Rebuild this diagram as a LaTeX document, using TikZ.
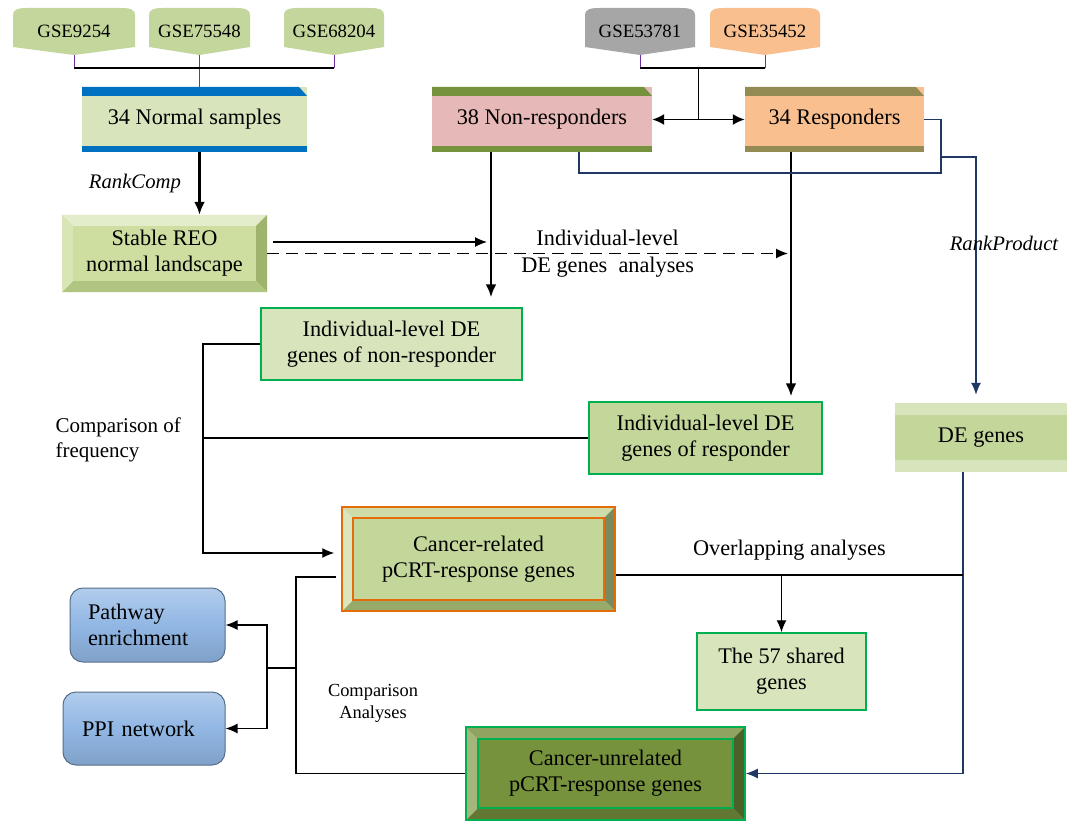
\documentclass[tikz,border=0pt]{standalone}
\usepackage{fontspec}
\setmainfont{Liberation Serif}
\usetikzlibrary{arrows.meta,positioning,calc}
\definecolor{tagGreen}{RGB}{195,214,155}
\definecolor{tagGray}{RGB}{166,166,166}
\definecolor{tagOrange}{RGB}{250,191,143}
\definecolor{paleGreen}{RGB}{216,228,188}
\definecolor{midGreen}{RGB}{196,215,155}
\definecolor{barBlue}{RGB}{0,112,192}
\definecolor{barGreen}{RGB}{118,146,60}
\definecolor{barOlive}{RGB}{148,138,84}
\definecolor{nonPink}{RGB}{230,184,183}
\definecolor{resOrange}{RGB}{250,191,143}
\definecolor{edgeGreen}{RGB}{0,176,80}
\definecolor{edgeOrange}{RGB}{228,108,10}
\definecolor{lineNavy}{RGB}{31,56,100}
\definecolor{stubPurple}{RGB}{112,48,160}
\definecolor{boxBlue}{RGB}{145,183,228}
\definecolor{reoface}{RGB}{205,222,160}
\definecolor{reotop}{RGB}{228,237,203}
\definecolor{reoleft}{RGB}{216,230,182}
\definecolor{reoright}{RGB}{158,180,108}
\definecolor{reobottom}{RGB}{176,197,128}
\definecolor{reoline}{RGB}{205,222,160}
\definecolor{crface}{RGB}{196,215,155}
\definecolor{crtop}{RGB}{205,220,168}
\definecolor{crleft}{RGB}{218,230,192}
\definecolor{crright}{RGB}{122,138,96}
\definecolor{crbottom}{RGB}{152,170,106}
\definecolor{crline}{RGB}{228,108,10}
\definecolor{cuface}{RGB}{118,146,60}
\definecolor{cutop}{RGB}{142,164,96}
\definecolor{culeft}{RGB}{164,182,122}
\definecolor{curight}{RGB}{78,96,42}
\definecolor{cubottom}{RGB}{98,120,50}
\definecolor{culine}{RGB}{0,176,80}
\newcommand\bodyfont{\fontsize{22.3}{26}\selectfont}
\newcommand\tagfont{\fontsize{18.8}{22}\selectfont}
\newcommand\notefont{\fontsize{21}{25}\selectfont}
\newcommand\smallnote{\fontsize{18.4}{22}\selectfont}
\newcommand\methodfont{\fontsize{20.7}{24}\selectfont\itshape}

\begin{document}
\begin{tikzpicture}[x=1pt,y=-1pt,
      gse/.style 2 args={minimum width=#1,minimum height=47pt,inner sep=0pt,font=\tagfont,fill=white,
        path picture={\fill[#2] ([yshift=8pt]path picture bounding box.south west)
          -- ([yshift=-7pt]path picture bounding box.north west)
          .. controls ([yshift=-2pt]path picture bounding box.north west) and ([xshift=4pt]path picture bounding box.north west) .. ([xshift=14pt]path picture bounding box.north west)
          -- ([xshift=-14pt]path picture bounding box.north east)
          .. controls ([xshift=-4pt]path picture bounding box.north east) and ([yshift=-2pt]path picture bounding box.north east) .. ([yshift=-7pt]path picture bounding box.north east)
          -- ([yshift=8pt]path picture bounding box.south east)
          -- (path picture bounding box.south) -- cycle;}},
      sample/.style 2 args={fill=#1,minimum height=65pt,font=\bodyfont,
        path picture={\fill[#2] (path picture bounding box.north west)
          -- ([xshift=-8pt]path picture bounding box.north east)
          -- ([yshift=-9pt]path picture bounding box.north east)
          -- ([yshift=-9pt]path picture bounding box.north west) -- cycle;
          \fill[#2] (path picture bounding box.south west) rectangle ([yshift=6pt]path picture bounding box.south east);}},
      bevel/.style 2 args={font=\bodyfont,align=center,
        path picture={
          \coordinate (bA) at (path picture bounding box.north west);
          \coordinate (bB) at (path picture bounding box.north east);
          \coordinate (bC) at (path picture bounding box.south east);
          \coordinate (bD) at (path picture bounding box.south west);
          \fill[#1face] (bA) rectangle (bC);
          \fill[#1top] (bA) -- (bB) -- ([shift={(-#2,-#2)}]bB) -- ([shift={(#2,-#2)}]bA) -- cycle;
          \fill[#1right] (bB) -- (bC) -- ([shift={(-#2,#2)}]bC) -- ([shift={(-#2,-#2)}]bB) -- cycle;
          \fill[#1bottom] (bC) -- (bD) -- ([shift={(#2,#2)}]bD) -- ([shift={(-#2,#2)}]bC) -- cycle;
          \fill[#1left] (bD) -- (bA) -- ([shift={(#2,-#2)}]bA) -- ([shift={(#2,#2)}]bD) -- cycle;
          \draw[#1line,line width=1.5pt] ([shift={(#2,-#2)}]bA) rectangle ([shift={(-#2,#2)}]bC);}},
      gbox/.style={draw=edgeGreen,line width=1.5pt,fill=#1,align=center,font=\bodyfont},
      debox/.style={fill=midGreen,font=\bodyfont,
        path picture={\fill[paleGreen] (path picture bounding box.north west) rectangle ([yshift=-12pt]path picture bounding box.north east);
          \fill[paleGreen] (path picture bounding box.south west) rectangle ([yshift=12pt]path picture bounding box.south east);}},
      blueb/.style={rounded corners=13pt,draw=boxBlue!60!black,line width=1pt,
        top color=boxBlue!70!white,bottom color=boxBlue!88!black,middle color=boxBlue,
        font=\bodyfont,align=left},
      link/.style={line width=1.3pt},
      stub/.style={stubPurple,line width=1pt},
      arr/.style={-{Latex[length=12pt,width=10pt]},line width=1.3pt},
      dbl/.style={{Latex[length=12pt,width=11pt]}-{Latex[length=12pt,width=11pt]},line width=1.8pt},
      bigarr/.style={-{Latex[length=13pt,width=11pt]},line width=2.5pt},
      navy/.style={lineNavy,line width=1.3pt},
      navyarr/.style={lineNavy,line width=1.3pt,-{Latex[length=12pt,width=10pt]}}]
    \path[use as bounding box,fill=white] (0,0) rectangle (1072,824);

    \node[gse={122pt}{tagGreen}] (gA) at (74,31.5) {GSE9254};
    \node[gse={101pt}{tagGreen}] (gB) at (199.5,31.5) {GSE75548};
    \node[gse={100pt}{tagGreen}] (gC) at (334,31.5) {GSE68204};
    \node[gse={110pt}{tagGray}] (gD) at (640,31.5) {GSE53781};
    \node[gse={110pt}{tagOrange}] (gE) at (765,31.5) {GSE35452};

    \node[sample={paleGreen}{barBlue},minimum width=225pt] (normal) at (194.5,119.5) {34 Normal samples};
    \node[sample={nonPink}{barGreen},minimum width=220pt] (non) at (542,119.5) {38 Non-responders};
    \node[sample={resOrange}{barOlive},minimum width=179pt] (res) at (834.5,119.5) {34 Responders};

    \node[bevel={reo}{12pt},minimum width=205pt,minimum height=77pt] (reo) at (164.5,253.5) {Stable REO\\normal landscape};
    \node[gbox=paleGreen,minimum width=261pt,minimum height=72pt] (ind1) at (391.5,344) {Individual-level DE\\genes of non-responder};
    \node[gbox=midGreen,minimum width=233pt,minimum height=72pt] (ind2) at (705.5,438) {Individual-level DE\\genes of responder};
    \node[debox,minimum width=172pt,minimum height=69pt] (de) at (981,437.5) {DE genes};
    \node[bevel={cr}{11pt},draw=edgeOrange,line width=1.5pt,minimum width=273pt,minimum height=104pt] (cr) at (478.5,559) {Cancer-related\\pCRT-response genes};
    \node[gbox=paleGreen,minimum width=169pt,minimum height=77pt] (shared) at (781.5,671.5) {The 57 shared\\genes};
    \node[bevel={cu}{12pt},draw=edgeGreen,line width=1.5pt,minimum width=279pt,minimum height=93pt] (cu) at (605.5,773.5) {Cancer-unrelated\\pCRT-response genes};
    \node[blueb,inner xsep=18pt,text width=119pt,minimum height=74pt] (pw) at (147.5,625) {Pathway\\enrichment};
    \node[blueb,inner xsep=19pt,text width=124pt,minimum height=73pt] (ppi) at (144,728.5) {PPI network};

    \node[font=\notefont,align=left,anchor=west] (cmpfreq) at (52,440) {Comparison of\\frequency};
    \node[font=\smallnote,align=center] (cmpana) at (373,703) {Comparison\\Analyses};

    \coordinate (barL) at (0,68);
    \draw[stub] (gA.south) -- (gA.south |- barL);
    \draw[stub] (gC.south) -- (gC.south |- barL);
    \draw[stub] (gB.south) -- (gB.south |- normal.north);
    \draw[link] (gA.south |- barL) -- (gC.south |- barL);
    \draw[stub] (gD.south) -- (gD.south |- barL);
    \draw[stub] (gE.south) -- (gE.south |- barL);
    \draw[link] (gD.south |- barL) -- (gE.south |- barL);
    \coordinate (split) at ($(non.east)!0.5!(res.west)$);
    \draw[link,line width=1.8pt] (split |- barL) -- (split);
    \draw[dbl] (non.east) -- (res.west);

    \draw[bigarr] (normal.south -| gB.south) -- (reo.north -| gB.south)
      node[midway,left=14pt,font=\methodfont] (rc) {RankComp};

    \coordinate (nonout) at ([xshift=-51pt]non.south);
    \coordinate (resout) at ([xshift=-43.5pt]res.south);
    \draw[bigarr,shorten >=10pt] (nonout) -- (nonout |- ind1.north);
    \draw[bigarr,shorten >=5pt] (resout) -- (resout |- ind2.north);
    \draw[arr,shorten >=4pt] ([xshift=6pt,yshift=11.5pt]reo.east) -- ([yshift=11.5pt]reo.east -| nonout);
    \draw[arr,dash pattern=on 12pt off 7pt,shorten >=3pt] (reo.east) -- (reo.east -| resout)
      node[pos=0.65,align=center,font=\bodyfont] (dashlbl) {Individual-level\\[1pt]DE genes\ \ analyses};

    \coordinate (rpj) at (941,173);
    \coordinate (rpk) at (941,157);
    \draw[navy] (res.east) -| (rpj) -| ([xshift=37pt]non.south);
    \draw[navyarr,shorten >=8pt] (rpk) -| ([xshift=-5pt]de.north)
      node[pos=0.675,xshift=28pt,font=\methodfont,text=black] (rp) {RankProduct};
    \coordinate (dedown) at ([xshift=-18pt]de.south);
    \draw[navyarr] (dedown) |- (cu.east);
    \draw[link] ([yshift=-16pt]cr.east) -- ([yshift=-16pt]cr.east -| dedown)
      node[midway,above=11pt,font=\bodyfont] (ovl) {Overlapping analyses};
    \draw[arr] ([yshift=-16pt]cr.east -| shared.north) -- (shared.north);

    \coordinate (cmpx) at (203,0);
    \coordinate (anx) at (296,0);
    \coordinate (brx) at (267,668);
    \draw[arr,shorten >=7pt] (ind1.west) -- (ind1.west -| cmpx) |- ([yshift=6pt]cr.west);
    \draw[link] (ind2.west) -- (ind2.west -| cmpx);
    \draw[link] ([xshift=-5pt,yshift=-18pt]cr.west) -| (anx |- cu.west) -- (cu.west);
    \draw[link] (anx |- brx) -- (brx);
    \draw[arr] (brx) |- (pw.east);
    \draw[arr] (brx) |- (ppi.east);
  \end{tikzpicture}
\end{document}
